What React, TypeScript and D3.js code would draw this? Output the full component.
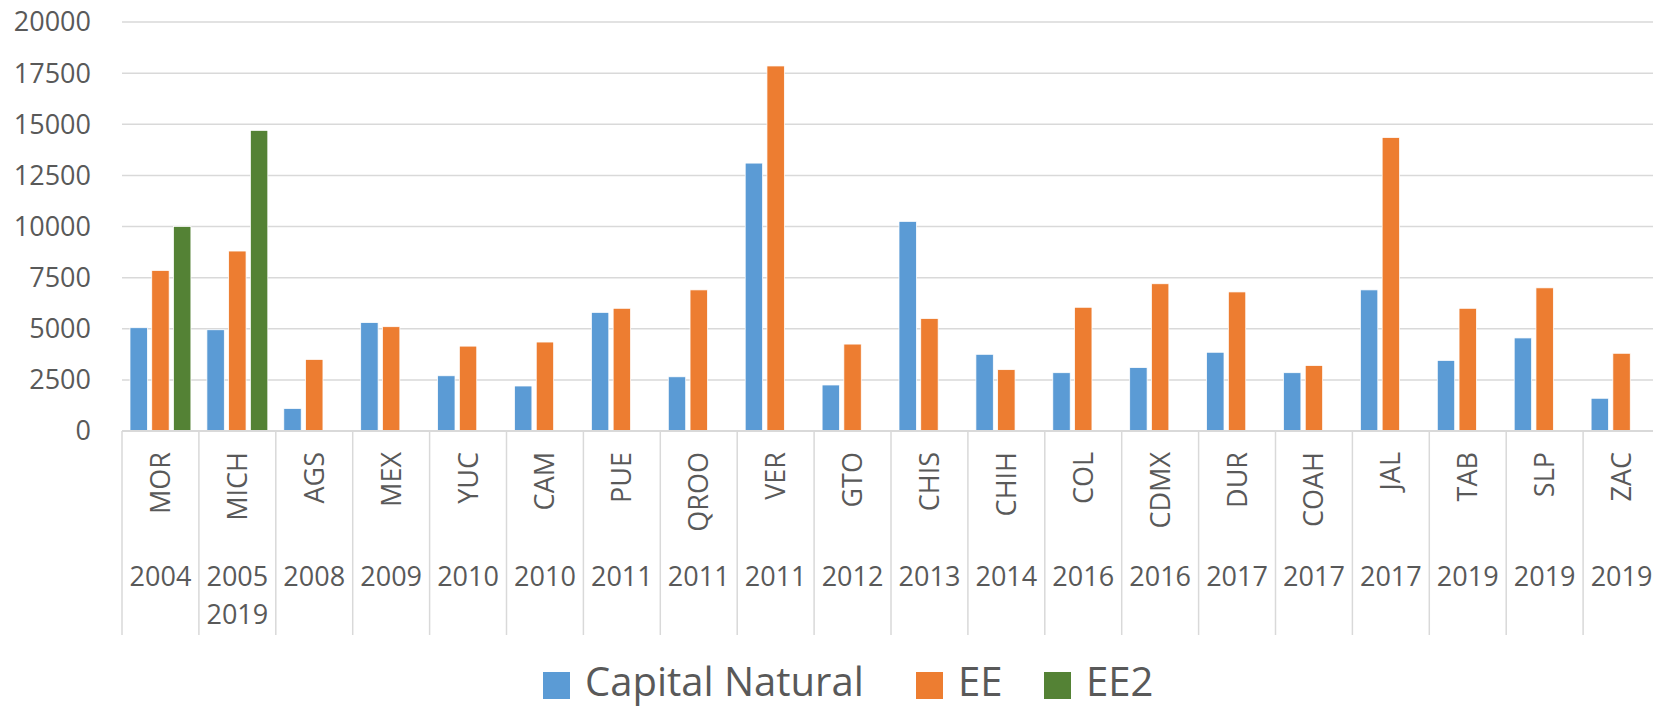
import React from 'react'
import * as d3 from 'd3'

const states = ['MOR', 'MICH', 'AGS', 'MEX', 'YUC', 'CAM', 'PUE', 'QROO', 'VER', 'GTO',
  'CHIS', 'CHIH', 'COL', 'CDMX', 'DUR', 'COAH', 'JAL', 'TAB', 'SLP', 'ZAC']
const years = [['2004'], ['2005', '2019'], ['2008'], ['2009'], ['2010'], ['2010'], ['2011'], ['2011'],
  ['2011'], ['2012'], ['2013'], ['2014'], ['2016'], ['2016'], ['2017'], ['2017'], ['2017'], ['2019'],
  ['2019'], ['2019']]
const capitalNatural = [5050, 4950, 1100, 5300, 2700, 2200, 5800, 2650, 13100, 2250,
  10250, 3750, 2850, 3100, 3850, 2850, 6900, 3450, 4550, 1600]
const ee = [7850, 8800, 3500, 5100, 4150, 4350, 6000, 6900, 17850, 4250,
  5500, 3000, 6050, 7200, 6800, 3200, 14350, 6000, 7000, 3800]
const ee2 = [10000, 14700, null, null, null, null, null, null, null, null,
  null, null, null, null, null, null, null, null, null, null]
const seriesNames = ['Capital Natural', 'EE', 'EE2']
const yTicks = [0, 2500, 5000, 7500, 10000, 12500, 15000, 17500, 20000]

const COLORS = ['#5B9BD5', '#ED7D31', '#548235']
const TEXT = '#595959'
const GRID = '#D9D9D9'
const FONT = '"Open Sans", sans-serif'

const W = 1653
const H = 708
const left = 122
const catW = 76.9
const axisBottom = 635

export default function App() {
  const seriesValues = [capitalNatural, ee, ee2]

  const x0 = d3.scaleBand<string>()
    .domain(states)
    .range([left, left + catW * states.length])
    .padding(0)

  const x1 = d3.scaleBand<string>()
    .domain(seriesNames)
    .range([8, catW - 8])
    .paddingInner(0.2)

  const y = d3.scaleLinear()
    .domain([0, 20000])
    .range([431, 22])

  const baseY = y(0)

  return (
    <svg width={W} height={H} style={{ position: 'absolute', left: 0, top: 0, background: '#fff' }}
      fontFamily={FONT}>
      {/* gridlines */}
      {yTicks.slice(1).map(t => (
        <line key={t} x1={left} x2={W} y1={y(t)} y2={y(t)} stroke={GRID} strokeWidth={1.5} />
      ))}
      {/* y tick labels */}
      {yTicks.map(t => (
        <text key={t} x={91} y={y(t)} dy="0.35em" textAnchor="end" fontSize={27} fill={TEXT}>
          {t}
        </text>
      ))}
      {/* bars */}
      {states.map((s, i) => (
        <g key={s} transform={`translate(${x0(s)},0)`}>
          {seriesNames.map((name, k) => {
            const v = seriesValues[k][i]
            if (v == null) return null
            return (
              <rect
                key={name}
                x={x1(name)}
                y={y(v)}
                width={x1.bandwidth()}
                height={baseY - y(v)}
                fill={COLORS[k]}
                stroke="#fff"
                strokeWidth={0.75}
              />
            )
          })}
        </g>
      ))}
      {/* category axis */}
      <line x1={left} x2={W} y1={baseY} y2={baseY} stroke={GRID} strokeWidth={2} />
      {[...states, 'end'].map((s, i) => {
        const bx = left + i * catW
        return <line key={s} x1={bx} x2={bx} y1={baseY} y2={axisBottom} stroke={GRID} strokeWidth={1.5} />
      })}
      {states.map((s, i) => {
        const cx = (x0(s) as number) + catW / 2
        return (
          <g key={s}>
            <text transform={`translate(${cx},452) rotate(-90)`} dy="0.35em" textAnchor="end"
              fontSize={27} fill={TEXT}>
              {s}
            </text>
            {years[i].map((yr, j) => (
              <text key={j} x={cx} y={586 + j * 38.3} textAnchor="middle" fontSize={27} fill={TEXT}>
                {yr}
              </text>
            ))}
          </g>
        )
      })}
      {/* legend */}
      {seriesNames.map((name, k) => {
        const lx = [543, 916, 1044][k]
        return (
          <g key={name} transform={`translate(${lx},672)`}>
            <rect width={27} height={27} fill={COLORS[k]} />
            <text x={42} y={24} fontSize={40} fill={TEXT}>{name}</text>
          </g>
        )
      })}
    </svg>
  )
}
